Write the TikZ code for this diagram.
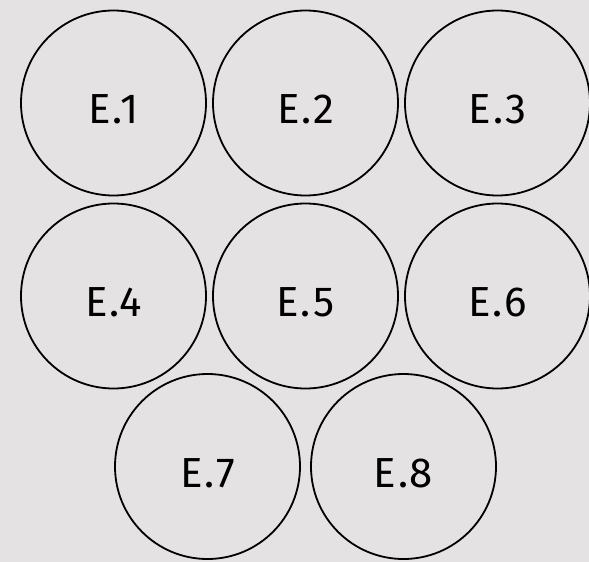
\documentclass[tikz,border=0pt]{standalone}
\usepackage{fontspec}
\setmainfont{Fira Sans}[LetterSpace=4]
\definecolor{bg}{RGB}{228,226,227}
\begin{document}
\begin{tikzpicture}[x=1pt,y=-1pt,
  cell/.style={circle,draw=black,line width=1.8pt,minimum size=185pt,inner sep=0pt,
    text height=41pt,text depth=0pt,font=\fontsize{42}{42}\selectfont}]
\fill[bg] (0,0) rectangle (589,562);
\useasboundingbox (0,0) rectangle (589,562);
\node[cell] (e1) at (113.5,103) {E.1};
\node[cell] (e2) at (305.5,103) {E.2};
\node[cell] (e3) at (497.5,103) {E.3};
\node[cell] (e4) at (113.5,296) {E.4};
\node[cell] (e5) at (305.5,296) {E.5};
\node[cell] (e6) at (497.5,296) {E.6};
\node[cell] (e7) at (207.5,466.5) {E.7};
\node[cell] (e8) at (403.5,466.5) {E.8};
\end{tikzpicture}
\end{document}
